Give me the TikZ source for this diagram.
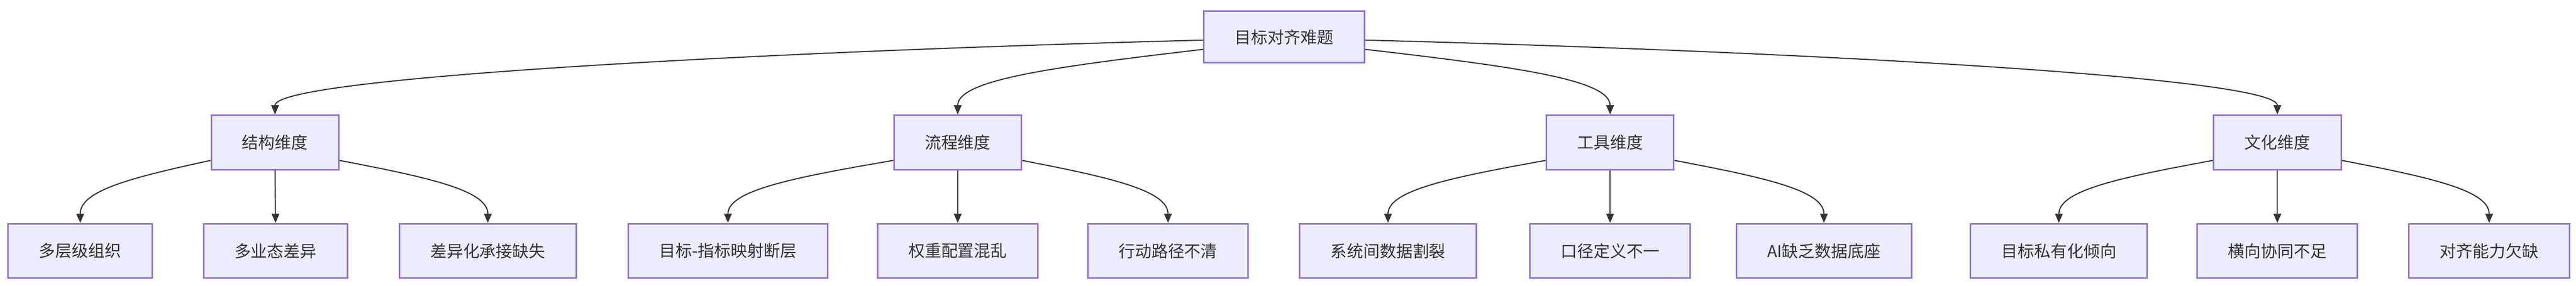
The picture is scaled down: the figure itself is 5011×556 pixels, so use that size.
\documentclass[tikz,border=0pt]{standalone}
\usepackage{fontspec}
\setmainfont{Noto Sans CJK SC}
\usetikzlibrary{arrows.meta}
\definecolor{nfill}{HTML}{ECECFF}
\definecolor{nborder}{HTML}{9370DB}
\definecolor{ntext}{HTML}{333333}
\begin{document}
\begin{tikzpicture}[x=1pt,y=-1pt,
  box/.style={draw=nborder,fill=nfill,line width=3pt,text=ntext,inner xsep=60pt,inner ysep=0pt,
    font=\fontsize{32}{38}\selectfont,minimum height=106pt},
  rootbox/.style={box,minimum height=100pt},
  edge/.style={draw=ntext,line width=2.2pt,-{Triangle[length=18pt,width=15pt]}}]
\useasboundingbox (0,0) rectangle (5011,556);
\node[rootbox] (r) at (2498,72) {目标对齐难题};
\node[box] (m1) at (535,277) {结构维度};
\node[box] (m2) at (1863,277) {流程维度};
\node[box] (m3) at (3132,277) {工具维度};
\node[box] (m4) at (4430,277) {文化维度};
\node[box] (l1) at (156,488) {多层级组织};
\node[box] (l2) at (536,488) {多业态差异};
\node[box] (l3) at (949,488) {差异化承接缺失};
\node[box] (l4) at (1416,488) {目标-指标映射断层};
\node[box] (l5) at (1863,488) {权重配置混乱};
\node[box] (l6) at (2272,488) {行动路径不清};
\node[box] (l7) at (2700,488) {系统间数据割裂};
\node[box] (l8) at (3132,488) {口径定义不一};
\node[box] (l9) at (3548,488) {AI缺乏数据底座};
\node[box] (l10) at (4005,488) {目标私有化倾向};
\node[box] (l11) at (4430,488) {横向协同不足};
\node[box] (l12) at (4842,488) {对齐能力欠缺};
\coordinate (r1) at (r.west|-0,78);
\coordinate (r2) at (r.west|-0,96);
\coordinate (r3) at (r.east|-0,96);
\coordinate (r4) at (r.east|-0,78);
\draw[edge] (r1) .. controls (1500,100) and (535,150) .. (m1.north);
\draw[edge] (r2) .. controls (2050,130) and (1863,155) .. (m2.north);
\draw[edge] (r3) .. controls (2950,130) and (3132,155) .. (m3.north);
\draw[edge] (r4) .. controls (3500,100) and (4430,150) .. (m4.north);
\foreach \m/\a/\b/\c/\mx/\ax/\cx in {m1/l1/l2/l3/535/156/949,m2/l4/l5/l6/1863/1416/2272,m3/l7/l8/l9/3132/2700/3548,m4/l10/l11/l12/4430/4005/4842}{
  \pgfmathsetmacro{\sl}{\mx-124}
  \pgfmathsetmacro{\sr}{\mx+124}
  \pgfmathsetmacro{\cl}{\sl+(\ax-\sl)*0.6}
  \pgfmathsetmacro{\cr}{\sr+(\cx-\sr)*0.6}
  \coordinate (sL) at (\m.west|-0,312);
  \coordinate (sR) at (\m.east|-0,312);
  \draw[edge] (sL) .. controls (\cl,345) and (\ax,370) .. (\a.north);
  \draw[edge] (\m.south) -- (\b.north);
  \draw[edge] (sR) .. controls (\cr,345) and (\cx,370) .. (\c.north);
}
\end{tikzpicture}
\end{document}
